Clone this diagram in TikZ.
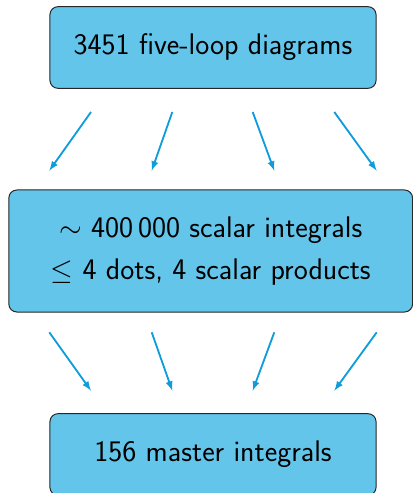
\documentclass[tikz,border=0pt]{standalone}
\usepackage{amssymb}
\usetikzlibrary{positioning}
\definecolor{boxblue}{RGB}{100,197,235}
\definecolor{arrowblue}{RGB}{14,156,218}
\tikzset{
  stage/.style={draw=black!85, fill=boxblue, rounded corners=0.2cm, line width=0.7pt,
    align=center, font=\sffamily\fontsize{21.2}{29.6}\selectfont},
  flow/.style={-latex, draw=arrowblue, line width=1.3pt}
}
\begin{document}
\begin{tikzpicture}[x=0.025cm,y=-0.025cm]
	\useasboundingbox (0,0) rectangle (413,493);
	\node[stage, minimum width=8.15cm, minimum height=2.04cm] (diagrams) at (213,47.5) {3451 five-loop diagrams};
	\node[stage, minimum width=10.09cm, minimum height=3.05cm] (scalars) at (210.7,251)
		{$\sim$ 400\,000 scalar integrals\\ $\leq$ 4 dots, 4 scalar products};
	\node[stage, minimum width=8.15cm, minimum height=2.04cm] (masters) at (213,454.5) {156 master integrals};
	\foreach \i/\a/\b in {1/91/49.3, 2/172.3/151.7, 3/252.7/274.3, 4/334.3/376.7} % fan out
	{
		\coordinate (top\i) at (\a,112);
		\coordinate (mid\i) at (\b,170.7);
		\draw[flow] (top\i) -- (mid\i);
	}
	\foreach \i/\a/\b in {1/49.3/91, 2/151.7/172.3, 3/274.3/252.7, 4/376.7/334.3} % fan in
	{
		\coordinate (low\i) at (\a,332.3);
		\coordinate (end\i) at (\b,390.7);
		\draw[flow] (low\i) -- (end\i);
	}
\end{tikzpicture}
\end{document}
